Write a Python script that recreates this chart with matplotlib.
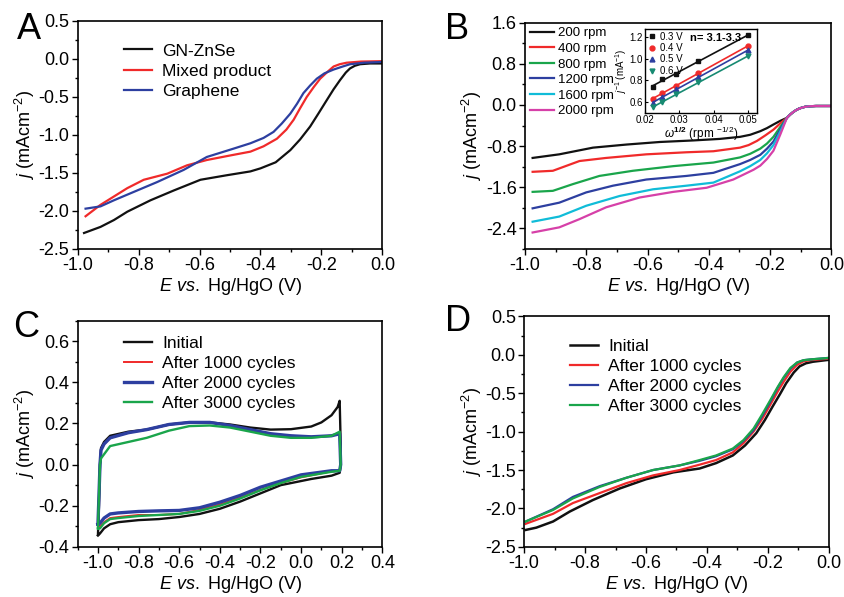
import numpy as np
import matplotlib.pyplot as plt
from matplotlib.ticker import MultipleLocator, AutoMinorLocator

plt.rcParams['font.family'] = ['Liberation Sans', 'DejaVu Sans']
plt.rcParams['mathtext.fontset'] = 'custom'
plt.rcParams['mathtext.rm'] = 'Liberation Sans'
plt.rcParams['mathtext.it'] = 'Liberation Sans:italic'
plt.rcParams['mathtext.bf'] = 'Liberation Sans:bold'
plt.rcParams['axes.unicode_minus'] = False

BLACK = '#111111'
RED = '#f02a2a'
BLUE = '#2d3fa0'
GREEN = '#1aa54b'
CYAN = '#10bcd8'
MAGENTA = '#d640a8'
TEAL = '#178a72'

# ---- Panel A: LSV of three samples ----
a_E_zn = [-0.979, -0.925, -0.881, -0.837, -0.761, -0.684, -0.597, -0.51, -0.433, -0.40, -0.35,
          -0.302, -0.27, -0.237, -0.21, -0.182, -0.16, -0.139, -0.12, -0.106, -0.09, -0.073, -0.04, 0.0]
a_j_zn = [-2.29, -2.21, -2.12, -2.01, -1.86, -1.73, -1.59, -1.53, -1.48, -1.44, -1.36,
          -1.20, -1.06, -0.89, -0.72, -0.54, -0.40, -0.28, -0.18, -0.125, -0.09, -0.07, -0.06, -0.06]
a_E_mix = [-0.974, -0.925, -0.881, -0.837, -0.783, -0.706, -0.641, -0.576, -0.499, -0.433, -0.39,
           -0.346, -0.315, -0.291, -0.27, -0.248, -0.225, -0.204, -0.18, -0.16, -0.14, -0.117, -0.07, 0.0]
a_j_mix = [-2.07, -1.92, -1.81, -1.70, -1.59, -1.51, -1.40, -1.33, -1.27, -1.22, -1.15,
           -1.05, -0.93, -0.80, -0.65, -0.50, -0.37, -0.26, -0.17, -0.10, -0.07, -0.05, -0.035, -0.03]
a_E_gr = [-0.974, -0.925, -0.881, -0.816, -0.739, -0.652, -0.576, -0.488, -0.433, -0.39, -0.357,
          -0.33, -0.302, -0.28, -0.259, -0.237, -0.215, -0.19, -0.16, -0.13, -0.106, -0.06, 0.0]
a_j_gr = [-1.97, -1.94, -1.86, -1.75, -1.62, -1.46, -1.29, -1.18, -1.11, -1.04, -0.96,
          -0.85, -0.72, -0.59, -0.45, -0.35, -0.26, -0.19, -0.14, -0.10, -0.07, -0.05, -0.04]

# ---- Panel B: LSV at different rotation rates ----
b_labels = ['200 rpm', '400 rpm', '800 rpm', '1200 rpm', '1600 rpm', '2000 rpm']
b_tail_E = [-0.145, -0.135, -0.125, -0.115, -0.105, -0.095, -0.085, -0.07, -0.05, 0.0]
b_tail_j = [-0.25, -0.19, -0.14, -0.10, -0.07, -0.05, -0.035, -0.025, -0.02, -0.02]
b_E = [
    [-0.975, -0.888, -0.778, -0.669, -0.56, -0.451, -0.364, -0.298, -0.265, -0.232, -0.21, -0.189, -0.167],
    [-0.975, -0.909, -0.822, -0.735, -0.604, -0.473, -0.385, -0.298, -0.27, -0.243, -0.215, -0.189, -0.167],
    [-0.975, -0.909, -0.844, -0.757, -0.648, -0.516, -0.385, -0.298, -0.265, -0.232, -0.21, -0.189, -0.167],
    [-0.975, -0.888, -0.80, -0.713, -0.604, -0.473, -0.385, -0.298, -0.265, -0.232, -0.21, -0.189, -0.167],
    [-0.975, -0.888, -0.80, -0.691, -0.582, -0.473, -0.385, -0.298, -0.265, -0.232, -0.21, -0.189, -0.167],
    [-0.975, -0.888, -0.822, -0.735, -0.626, -0.516, -0.407, -0.32, -0.254, -0.232, -0.21, -0.189, -0.167],
]
b_j = [
    [-1.03, -0.96, -0.83, -0.77, -0.72, -0.69, -0.66, -0.62, -0.58, -0.51, -0.45, -0.38, -0.31],
    [-1.30, -1.28, -1.09, -1.03, -0.96, -0.92, -0.90, -0.83, -0.78, -0.70, -0.59, -0.48, -0.36],
    [-1.69, -1.67, -1.54, -1.38, -1.28, -1.19, -1.12, -1.02, -0.95, -0.85, -0.75, -0.62, -0.43],
    [-2.01, -1.90, -1.70, -1.57, -1.45, -1.38, -1.32, -1.15, -1.07, -0.97, -0.85, -0.71, -0.48],
    [-2.27, -2.17, -1.96, -1.77, -1.64, -1.57, -1.51, -1.29, -1.19, -1.07, -0.94, -0.78, -0.52],
    [-2.48, -2.38, -2.22, -1.99, -1.80, -1.69, -1.61, -1.45, -1.26, -1.18, -1.05, -0.89, -0.58],
]
b_colors = [BLACK, RED, GREEN, BLUE, CYAN, MAGENTA]

# inset: Koutecky-Levich
kl_x = [0.0224, 0.025, 0.0289, 0.0354, 0.05]
kl_labels = ['0.3 V', '0.4 V', '0.5 V', '0.6 V']
kl_y = [
    [0.74, 0.81, 0.86, 0.98, 1.22],
    [0.63, 0.68, 0.75, 0.87, 1.12],
    [0.59, 0.645, 0.72, 0.83, 1.08],
    [0.55, 0.60, 0.67, 0.785, 1.025],
]
kl_markers = ['s', 'o', '^', 'v']
kl_colors = [BLACK, RED, BLUE, TEAL]

# ---- Panel C: CV before/after cycling (anodic then cathodic sweep) ----
c_labels = ['Initial', 'After 1000 cycles', 'After 2000 cycles', 'After 3000 cycles']
c_E_init = [-1.0, -0.995, -0.99, -0.985, -0.97, -0.94, -0.85, -0.76, -0.65, -0.55, -0.45, -0.35, -0.25,
            -0.15, -0.05, 0.05, 0.1, 0.15, 0.18, 0.19, 0.195, 0.195, 0.19,
            0.15, 0.05, 0.0, -0.1, -0.2, -0.3, -0.4, -0.5, -0.6, -0.7, -0.8, -0.9, -0.94, -0.97, -0.99, -1.0]
c_j_init = [-0.34, -0.2, 0.0, 0.08, 0.11, 0.14, 0.16, 0.17, 0.195, 0.205, 0.205, 0.195, 0.18,
            0.17, 0.172, 0.185, 0.205, 0.24, 0.28, 0.31, 0.1, 0.0, -0.04,
            -0.054, -0.07, -0.08, -0.10, -0.14, -0.18, -0.215, -0.24, -0.255, -0.265, -0.27, -0.28, -0.29,
            -0.31, -0.335, -0.345]
c_E_cyc = [-1.0, -0.995, -0.99, -0.985, -0.97, -0.94, -0.85, -0.76, -0.65, -0.55, -0.45, -0.35, -0.25,
           -0.15, -0.05, 0.05, 0.15, 0.19, 0.195, 0.19,
           0.15, 0.0, -0.1, -0.2, -0.3, -0.4, -0.5, -0.6, -0.7, -0.8, -0.9, -0.94, -0.97, -0.99, -1.0]
c_j_1000 = [-0.30, -0.15, 0.0, 0.07, 0.10, 0.13, 0.155, 0.17, 0.195, 0.205, 0.205, 0.19, 0.17,
            0.15, 0.14, 0.135, 0.14, 0.15, 0.0, -0.03,
            -0.033, -0.062, -0.09, -0.123, -0.16, -0.194, -0.22, -0.24, -0.245, -0.245, -0.255, -0.26,
            -0.28, -0.30, -0.30]
c_j_2000 = [-0.29, -0.15, 0.0, 0.07, 0.10, 0.13, 0.155, 0.17, 0.195, 0.205, 0.205, 0.19, 0.17,
            0.15, 0.14, 0.135, 0.14, 0.15, 0.0, -0.03,
            -0.03, -0.05, -0.08, -0.11, -0.15, -0.183, -0.21, -0.223, -0.225, -0.228, -0.235, -0.24,
            -0.26, -0.285, -0.29]
c_j_3000 = [-0.31, -0.15, 0.0, 0.03, 0.05, 0.09, 0.11, 0.13, 0.165, 0.187, 0.19, 0.18, 0.16,
            0.14, 0.13, 0.13, 0.14, 0.16, 0.0, -0.03,
            -0.035, -0.06, -0.09, -0.125, -0.165, -0.20, -0.225, -0.24, -0.245, -0.25, -0.26, -0.265,
            -0.285, -0.31, -0.31]

# ---- Panel D: LSV before/after cycling ----
d_E_init = [-0.995, -0.96, -0.905, -0.85, -0.774, -0.686, -0.60, -0.51, -0.424, -0.37, -0.315, -0.275,
            -0.238, -0.21, -0.184, -0.16, -0.14, -0.115, -0.096, -0.075, -0.052, 0.0]
d_j_init = [-2.28, -2.25, -2.17, -2.04, -1.89, -1.74, -1.62, -1.53, -1.48, -1.41, -1.31, -1.18,
            -1.02, -0.85, -0.67, -0.51, -0.37, -0.23, -0.15, -0.11, -0.09, -0.065]
d_E_cyc = [-0.995, -0.905, -0.84, -0.752, -0.664, -0.577, -0.49, -0.424, -0.37, -0.315, -0.28, -0.247,
           -0.218, -0.192, -0.168, -0.148, -0.126, -0.104, -0.083, -0.06, 0.0]
d_j_1000 = [-2.20, -2.07, -1.93, -1.80, -1.67, -1.57, -1.50, -1.43, -1.37, -1.27, -1.15, -1.00,
            -0.83, -0.65, -0.48, -0.35, -0.22, -0.13, -0.085, -0.07, -0.05]
d_j_2000 = [-2.17, -2.01, -1.85, -1.71, -1.60, -1.50, -1.44, -1.38, -1.32, -1.23, -1.12, -0.98,
            -0.79, -0.61, -0.43, -0.30, -0.18, -0.10, -0.07, -0.06, -0.04]
d_j_3000 = [-2.17, -2.02, -1.87, -1.72, -1.60, -1.50, -1.44, -1.37, -1.31, -1.22, -1.11, -0.96,
            -0.77, -0.59, -0.42, -0.29, -0.17, -0.10, -0.07, -0.06, -0.04]

XLABEL = r'$\mathit{E\ vs.}$ Hg/HgO (V)'
YLABEL = r'$j$ (mAcm$^{-2}$)'


def style(ax, xmaj, ymaj):
    ax.xaxis.set_major_locator(MultipleLocator(xmaj))
    ax.yaxis.set_major_locator(MultipleLocator(ymaj))
    ax.xaxis.set_minor_locator(AutoMinorLocator(2))
    ax.yaxis.set_minor_locator(AutoMinorLocator(2))
    ax.tick_params(which='both', direction='out', top=False, right=False, labelsize=13, pad=2)
    ax.tick_params(which='major', length=4, width=1)
    ax.tick_params(which='minor', length=2.5, width=1)
    for s in ax.spines.values():
        s.set_linewidth(1.2)
    ax.set_xlabel(XLABEL, fontsize=13, labelpad=1)
    ax.set_ylabel(YLABEL, fontsize=13, labelpad=1)


fig = plt.figure(figsize=(8.44, 5.97), dpi=100)

# A
axA = fig.add_axes([0.092, 0.583, 0.361, 0.382])
axA.plot(a_E_zn, a_j_zn, color=BLACK, lw=1.6, label='GN-ZnSe')
axA.plot(a_E_mix, a_j_mix, color=RED, lw=1.6, label='Mixed product')
axA.plot(a_E_gr, a_j_gr, color=BLUE, lw=1.6, label='Graphene')
axA.set_xlim(-1.0, 0.0)
axA.set_ylim(-2.5, 0.5)
style(axA, 0.2, 0.5)
axA.legend(loc='upper left', bbox_to_anchor=(0.1, 0.97), frameon=False, fontsize=12.5,
           handlelength=1.6, labelspacing=0.3, handletextpad=0.6)
fig.text(0.02, 0.935, 'A', fontsize=26)

# B
axB = fig.add_axes([0.622, 0.583, 0.363, 0.379])
for E, j, c, lab in zip(b_E, b_j, b_colors, b_labels):
    axB.plot(E + b_tail_E, j + b_tail_j, color=c, lw=1.6, label=lab)
axB.set_xlim(-1.0, 0.0)
axB.set_ylim(-2.8, 1.6)
style(axB, 0.2, 0.8)
axB.legend(loc='upper left', bbox_to_anchor=(-0.01, 1.015), frameon=False, fontsize=9.5,
           handlelength=1.8, labelspacing=0.25, handletextpad=0.3, borderaxespad=0.2)
fig.text(0.527, 0.935, 'B', fontsize=26)

axI = fig.add_axes([0.764, 0.811, 0.133, 0.141])
for y, m, c, lab in zip(kl_y, kl_markers, kl_colors, kl_labels):
    fit = np.polyfit(kl_x, y, 1)
    xx = np.array([kl_x[0], kl_x[-1]])
    axI.plot(xx, np.polyval(fit, xx), color=c, lw=1.2)
    axI.plot(kl_x, y, m, color=c, ms=3.5, ls='none', label=lab)
axI.set_xlim(0.02, 0.0525)
axI.set_ylim(0.5, 1.28)
axI.set_xticks([0.02, 0.03, 0.04, 0.05])
axI.set_yticks([0.6, 0.8, 1.0, 1.2])
axI.tick_params(direction='in', length=2, labelsize=7, pad=1.5)
for s in axI.spines.values():
    s.set_linewidth(1.0)
axI.set_xlabel(r'$\omega^{\mathbf{1/2}}$ (rpm $^{-1/2}$)', fontsize=8.5, labelpad=0)
axI.set_ylabel(r'$j^{-1}$ (mA$^{-1}$)', fontsize=7, labelpad=0)
axI.legend(loc='upper left', frameon=False, fontsize=7, handlelength=0.8, handletextpad=0.5,
           labelspacing=0.15, borderpad=0.05, borderaxespad=0.25)
axI.text(0.40, 0.95, 'n= 3.1-3.3', transform=axI.transAxes, fontsize=8, fontweight='bold',
         ha='left', va='top')

# C
axC = fig.add_axes([0.092, 0.084, 0.361, 0.379])
axC.plot(c_E_init, c_j_init, color=BLACK, lw=1.7, label=c_labels[0])
axC.plot(c_E_cyc, c_j_1000, color=RED, lw=1.4, label=c_labels[1])
axC.plot(c_E_cyc, c_j_2000, color=BLUE, lw=2.4, label=c_labels[2])
axC.plot(c_E_cyc, c_j_3000, color=GREEN, lw=1.7, label=c_labels[3])
axC.set_xlim(-1.1, 0.4)
axC.set_ylim(-0.4, 0.7)
style(axC, 0.2, 0.2)
axC.legend(loc='upper left', bbox_to_anchor=(0.1, 1.0), frameon=False, fontsize=12.5,
           handlelength=1.6, labelspacing=0.28, handletextpad=0.6)
fig.text(0.015, 0.435, 'C', fontsize=26)

# D
axD = fig.add_axes([0.621, 0.084, 0.361, 0.386])
axD.plot(d_E_init, d_j_init, color=BLACK, lw=1.8, label='Initial')
axD.plot(d_E_cyc, d_j_1000, color=RED, lw=1.6, label='After 1000 cycles')
axD.plot(d_E_cyc, d_j_2000, color=BLUE, lw=1.6, label='After 2000 cycles')
axD.plot(d_E_cyc, d_j_3000, color=GREEN, lw=1.6, label='After 3000 cycles')
axD.set_xlim(-1.0, 0.0)
axD.set_ylim(-2.5, 0.5)
style(axD, 0.2, 0.5)
axD.legend(loc='upper left', bbox_to_anchor=(0.1, 0.97), frameon=False, fontsize=12.5,
           handlelength=1.6, labelspacing=0.28, handletextpad=0.6)
fig.text(0.527, 0.445, 'D', fontsize=26)

fig.savefig('out.png', dpi=100)
